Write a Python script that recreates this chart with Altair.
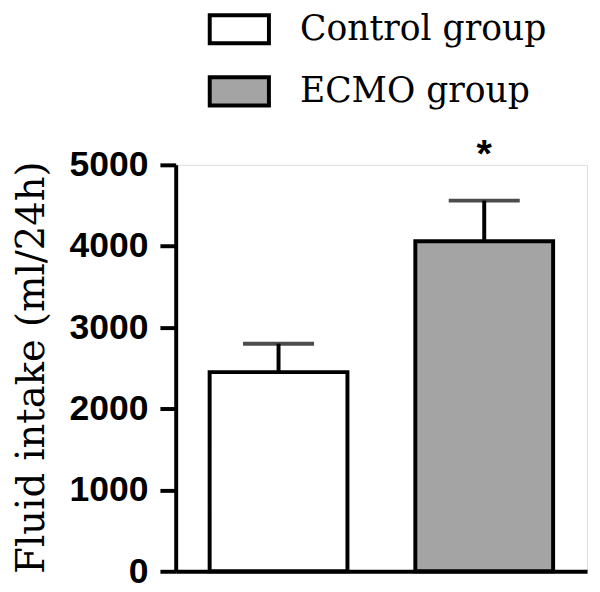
import altair as alt
import pandas as pd

groups = ["Control group", "ECMO group"]
means = [2450, 4060]
upper = [2800, 4560]
stars = ["", "*"]
fills = ["#ffffff", "#a4a4a4"]
y_ticks = [0, 1000, 2000, 3000, 4000, 5000]

df = pd.DataFrame({"group": groups, "mean": means, "upper": upper, "star": stars})

x = alt.X("group:N", sort=groups,
          scale=alt.Scale(paddingInner=0.33, paddingOuter=0.165),
          axis=alt.Axis(labels=False, ticks=False, title=None,
                        domainColor="black", domainWidth=4))
yscale = alt.Scale(domain=[0, 5000], nice=False)

bars = alt.Chart(df).mark_bar(stroke="black", strokeWidth=4).encode(
    x=x,
    y=alt.Y("mean:Q", scale=yscale,
            axis=alt.Axis(values=y_ticks, format="d", grid=False,
                          title="Fluid intake (ml/24h)",
                          domainColor="black", domainWidth=4,
                          tickColor="black", tickWidth=4, tickSize=16,
                          labelFont="Liberation Sans", labelFontWeight="bold",
                          labelFontSize=36, labelColor="black", labelPadding=12,
                          titleFont="DejaVu Serif", titleFontWeight="normal",
                          titleFontSize=39, titleColor="black",
                          titleX=-146, titleY=205, titleAngle=-90,
                          titleAlign="center", titleBaseline="middle")),
    fill=alt.Fill("group:N", sort=groups,
                  scale=alt.Scale(domain=groups, range=fills),
                  legend=alt.Legend(title=None, orient="none",
                                    legendX=47, legendY=-155,
                                    symbolType="M-2,-0.95L2,-0.95L2,0.95L-2,0.95Z",
                                    symbolSize=900,
                                    symbolStrokeColor="black", symbolStrokeWidth=4,
                                    labelFont="DejaVu Serif", labelFontSize=35,
                                    labelColor="black", labelOffset=44,
                                    rowPadding=18, padding=0,
                                    labelLimit=400)),
)

err = alt.Chart(df).mark_rule(color="black", strokeWidth=4).encode(
    x=alt.X("group:N", sort=groups),
    y=alt.Y("mean:Q", scale=yscale),
    y2="upper:Q",
)

cap = alt.Chart(df).mark_tick(color="black", thickness=4, size=72).encode(
    x=alt.X("group:N", sort=groups),
    y=alt.Y("upper:Q", scale=yscale),
)

star = alt.Chart(df).mark_text(font="Liberation Sans", fontWeight="bold",
                               fontSize=40, baseline="alphabetic", dy=-34,
                               color="black").encode(
    x=alt.X("group:N", sort=groups),
    y=alt.Y("upper:Q", scale=yscale),
    text="star:N",
)

chart = alt.layer(err, bars, cap, star).properties(
    width=417, height=412,
    autosize=alt.AutoSizeParams(type="none"),
    padding={"left": 170, "top": 155, "right": 5, "bottom": 17},
).configure_view(stroke=None).configure(background="white")

chart.save("out.html", embed_options={"renderer": "svg", "actions": False})
